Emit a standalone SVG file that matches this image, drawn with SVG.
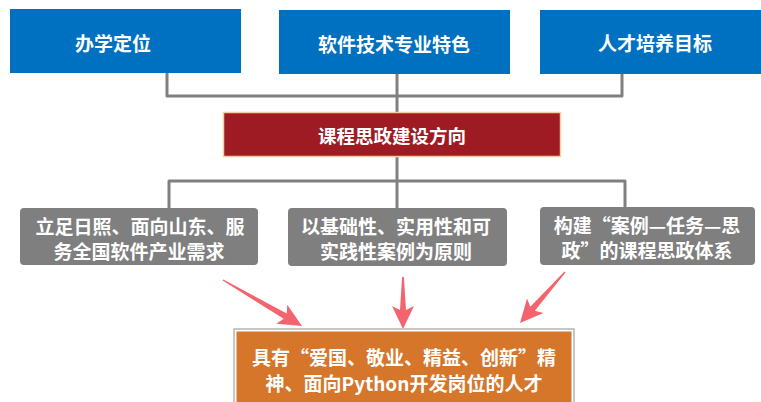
<svg xmlns="http://www.w3.org/2000/svg" width="761" height="402" viewBox="0 0 761 402">
<style>
text{font-family:"Noto Sans CJK SC","Microsoft YaHei",sans-serif;font-weight:bold;fill:#fff;text-anchor:middle;dominant-baseline:central}
.blue{fill:#0070C0}
.gray{fill:#7F7F7F}
.line{fill:none;stroke:#808080;stroke-width:3;stroke-linejoin:round}
.arr{fill:#F4646E}
</style>
<rect width="761" height="402" fill="#fff"/>
<g id="connectors">
<path class="line" d="M167,73 V96 H622 V74"/>
<path class="line" d="M397,74 V112"/>
<path class="line" d="M397,157 V208"/>
<path class="line" d="M169,208 V181 H625 V207"/>
<path class="arr" transform="translate(223,280) rotate(30.2)" d="M0,-0.7 L72,-3 L68,-11 L91.4,0 L68,11 L72,3 L0,0.7 Z"/>
<path class="arr" transform="translate(403,277) rotate(90)" d="M0,-0.9 L33,-3 L29,-11 L52,0 L29,11 L33,3 L0,0.9 Z"/>
<path class="arr" transform="translate(565,272) rotate(131.4)" d="M0,-0.7 L49,-3 L45,-11 L68,0 L45,11 L49,3 L0,0.7 Z"/>
</g>
<g id="n1"><rect class="blue" x="10" y="9" width="231" height="64"/><text x="113" y="42" font-size="19">办学定位</text></g>
<g id="n2"><rect class="blue" x="279" y="10" width="231" height="64"/><text x="394" y="43" font-size="19">软件技术专业特色</text></g>
<g id="n3"><rect class="blue" x="540" y="10" width="221" height="64"/><text x="655" y="42" font-size="19">人才培养目标</text></g>
<g id="n4"><rect x="223.5" y="112.5" width="337" height="44" fill="#9E1B24" stroke="#F6CFA0" stroke-width="1.5"/><text x="392" y="135" font-size="18.5">课程思政建设方向</text></g>
<g id="n5"><rect class="gray" x="20" y="208" width="238" height="57" rx="4"/><text x="140" y="225" font-size="19">立足日照、面向山东、服</text><text x="139" y="250" font-size="19">务全国软件产业需求</text></g>
<g id="n6"><rect class="gray" x="288" y="208" width="219" height="58" rx="4"/><text x="396" y="225" font-size="19">以基础性、实用性和可</text><text x="396" y="250" font-size="19">实践性案例为原则</text></g>
<g id="n7"><rect class="gray" x="540" y="207" width="215" height="58" rx="4"/><text x="647" y="224" font-size="19">构建“案例—任务—思</text><text x="647" y="249" font-size="19">政”的课程思政体系</text></g>
<g id="n8"><rect x="234" y="329" width="340" height="74" fill="#fff" stroke="#B5B5B5" stroke-width="1.5"/><rect x="236.5" y="331.5" width="335" height="72" fill="#D6762A"/><text x="404" y="356" font-size="19">具有“爱国、敬业、精益、创新”精</text><text x="404" y="382" font-size="19">神、面向Python开发岗位的人才</text></g>
</svg>
